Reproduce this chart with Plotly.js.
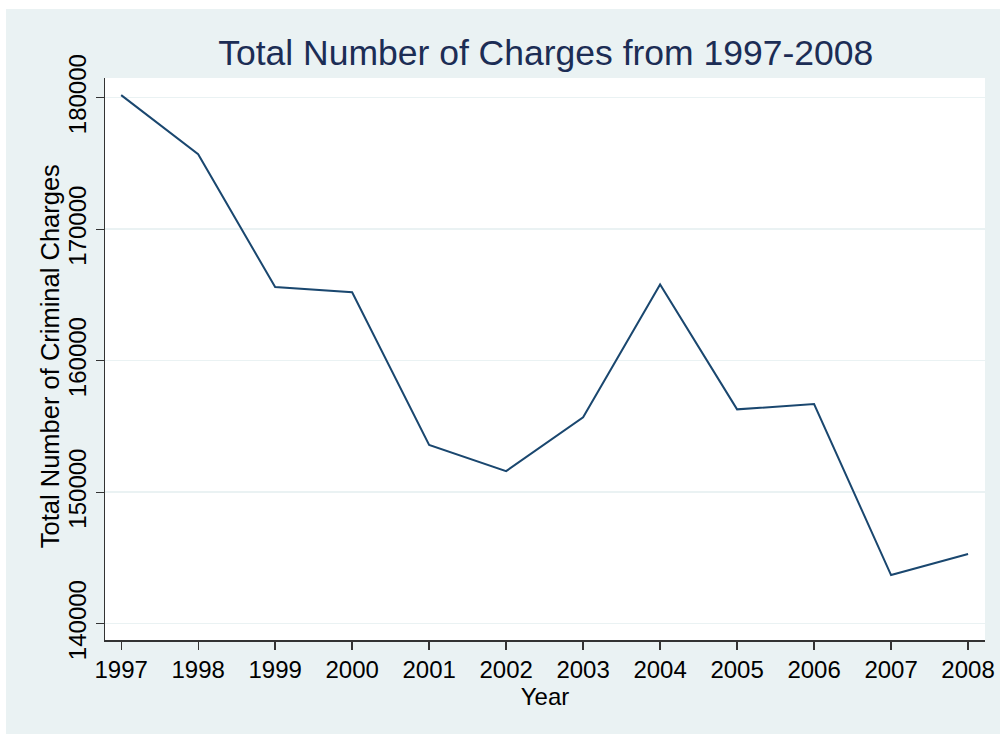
<!DOCTYPE html>
<html>
<head>
<meta charset="utf-8">
<script src="https://cdn.plot.ly/plotly-3.0.1.min.js"></script>
<style>
html,body{margin:0;padding:0;background:#ffffff;}
#chart{position:absolute;left:6px;top:9px;width:994px;height:725px;}
</style>
</head>
<body>
<div id="chart"></div>
<script>
const years = [1997, 1998, 1999, 2000, 2001, 2002, 2003, 2004, 2005, 2006, 2007, 2008];
const charges = [180200, 175700, 165600, 165200, 153600, 151600, 155700, 165800, 156300, 156700, 143700, 145300];
const yTicks = [140000, 150000, 160000, 170000, 180000];

const fontFam = '"Liberation Sans", Arial, Helvetica, sans-serif';

const trace = {
  x: years,
  y: charges,
  type: 'scatter',
  mode: 'lines',
  line: {color: '#1a476f', width: 2},
  hoverinfo: 'x+y'
};

const layout = {
  width: 994,
  height: 725,
  margin: {l: 99, r: 15, t: 69, b: 94, pad: 0},
  paper_bgcolor: '#eaf2f3',
  plot_bgcolor: '#ffffff',
  showlegend: false,
  title: {
    text: 'Total Number of Charges from 1997-2008',
    font: {family: fontFam, size: 35.5, color: '#1c2d55'},
    x: 0.543, xanchor: 'center',
    y: 0.94, yanchor: 'middle'
  },
  xaxis: {
    range: [1996.79, 2008.22],
    tickvals: years,
    ticktext: years.map(String),
    ticks: 'outside', ticklen: 8, tickwidth: 1.3, tickcolor: '#333333',
    showline: true, linecolor: '#333333', linewidth: 1.5,
    showgrid: false, zeroline: false,
    tickfont: {family: fontFam, size: 24, color: '#000000'},
    title: {text: 'Year', font: {family: fontFam, size: 24, color: '#000000'}, standoff: 0},
    automargin: false
  },
  yaxis: {
    range: [138760, 181500],
    tickvals: yTicks,
    ticktext: yTicks.map(String),
    tickangle: -90,
    ticks: 'outside', ticklen: 8, tickwidth: 1.3, tickcolor: '#333333',
    showline: true, linecolor: '#333333', linewidth: 1.5,
    showgrid: true, gridcolor: '#eaf2f3', gridwidth: 1.5,
    zeroline: false,
    tickfont: {family: fontFam, size: 24, color: '#000000'},
    automargin: false
  },
  annotations: [{
    text: 'Total Number of Criminal Charges',
    xref: 'paper', yref: 'paper',
    x: 0, y: 0.505,
    xanchor: 'center', yanchor: 'middle',
    xshift: -55,
    textangle: -90,
    showarrow: false,
    font: {family: fontFam, size: 25.5, color: '#000000'}
  }]
};

Plotly.newPlot('chart', [trace], layout, {displayModeBar: false, staticPlot: true});
</script>
</body>
</html>
